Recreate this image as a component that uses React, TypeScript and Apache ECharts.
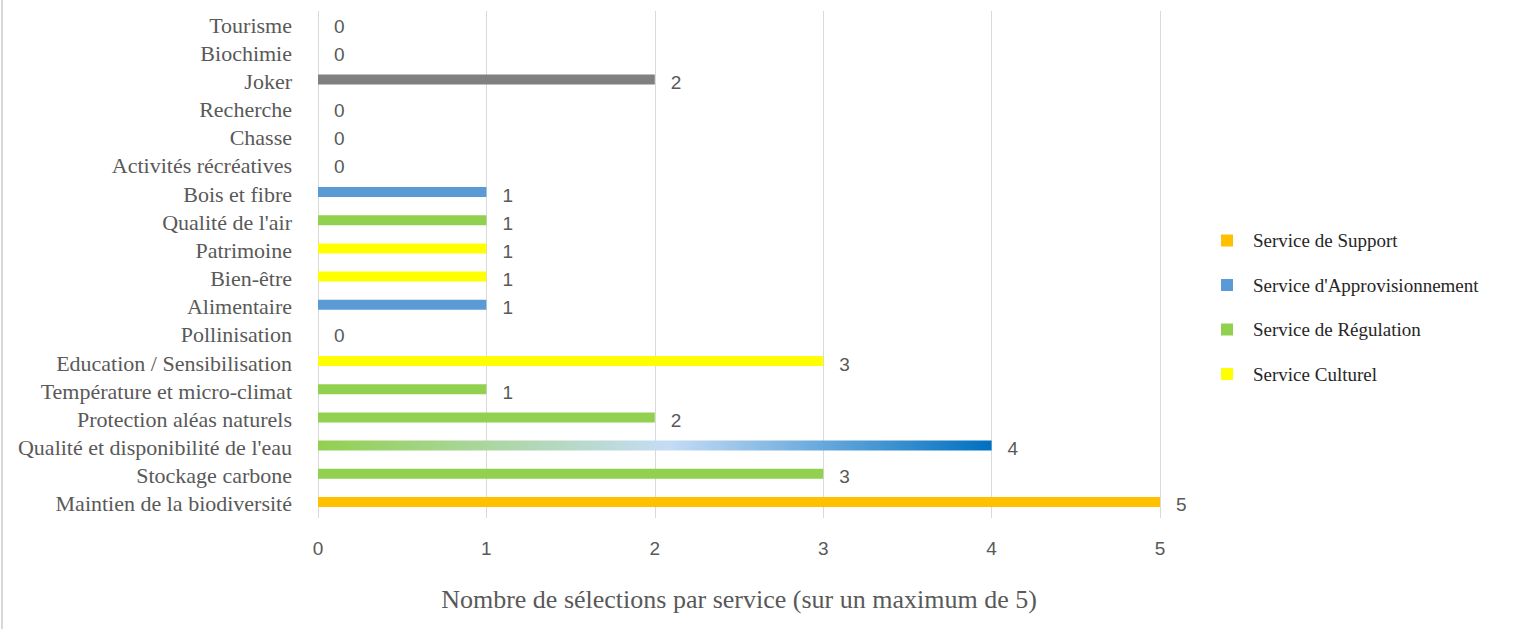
import React, { useEffect, useRef } from "react";
import * as echarts from "echarts";

const categories = [
  "Maintien de la biodiversité",
  "Stockage carbone",
  "Qualité et disponibilité de l'eau",
  "Protection aléas naturels",
  "Température et micro-climat",
  "Education / Sensibilisation",
  "Pollinisation",
  "Alimentaire",
  "Bien-être",
  "Patrimoine",
  "Qualité de l'air",
  "Bois et fibre",
  "Activités récréatives",
  "Chasse",
  "Recherche",
  "Joker",
  "Biochimie",
  "Tourisme",
];
const values = [5, 3, 4, 2, 1, 3, 0, 1, 1, 1, 1, 1, 0, 0, 0, 2, 0, 0];
// service type per category
const serviceOf = [
  "support",
  "regulation",
  "mixed",
  "regulation",
  "regulation",
  "culturel",
  "regulation",
  "approvisionnement",
  "culturel",
  "culturel",
  "regulation",
  "approvisionnement",
  "culturel",
  "culturel",
  "culturel",
  "joker",
  "approvisionnement",
  "culturel",
];
const legendNames = [
  "Service de Support",
  "Service d'Approvisionnement",
  "Service de Régulation",
  "Service Culturel",
];
const legendKeys = ["support", "approvisionnement", "regulation", "culturel"];
const colors: Record<string, string> = {
  support: "#FFC000",
  approvisionnement: "#5B9BD5",
  regulation: "#92D050",
  culturel: "#FFFF00",
  joker: "#808080",
};
const xTicks = [0, 1, 2, 3, 4, 5];

export default function App() {
  const ref = useRef<HTMLDivElement>(null);
  useEffect(() => {
    document.body.style.margin = "0";
    const chart = echarts.init(ref.current!, null, { renderer: "svg" });
    const colorFor = (k: string) =>
      k === "mixed"
        ? new echarts.graphic.LinearGradient(0, 0, 1, 0, [
            { offset: 0, color: "#92D050" },
            { offset: 0.52, color: "#C5DCF5" },
            { offset: 1, color: "#0070C0" },
          ])
        : colors[k];
    chart.setOption({
      animation: false,
      graphic: [
        {
          type: "rect",
          shape: { x: 1, y: 0, width: 2, height: 629 },
          style: { fill: "#D9D9D9" },
        },
      ],
      grid: { left: 318, right: 366, top: 11, bottom: 111, containLabel: false },
      legend: {
        data: legendNames,
        orient: "vertical",
        left: 1216,
        top: 226,
        itemWidth: 12,
        itemHeight: 12,
        itemGap: 25.5,
        icon: "rect",
        textStyle: {
          fontFamily: "Liberation Serif",
          fontSize: 19,
          color: "#262626",
          padding: [0, 0, 0, 15],
        },
      },
      xAxis: {
        type: "value",
        min: xTicks[0],
        max: xTicks[xTicks.length - 1],
        interval: 1,
        axisLine: { show: false },
        axisTick: { show: false },
        splitLine: { lineStyle: { color: "#D9D9D9", width: 1 } },
        axisLabel: {
          margin: 21,
          fontFamily: "Liberation Sans",
          fontSize: 19,
          color: "#595959",
        },
        name: "Nombre de sélections par service (sur un maximum de 5)",
        nameLocation: "middle",
        nameGap: 68,
        nameTextStyle: {
          fontFamily: "Liberation Serif",
          fontSize: 26,
          color: "#595959",
        },
      },
      yAxis: {
        type: "category",
        data: categories,
        axisLine: { show: false },
        axisTick: { show: false },
        axisLabel: {
          interval: 0,
          margin: 26,
          fontFamily: "Liberation Serif",
          fontSize: 22,
          color: "#595959",
        },
      },
      series: [
        {
          name: "Sélections",
          type: "bar",
          barWidth: 10,
          data: values.map((v, i) => ({
            value: v,
            itemStyle: { color: colorFor(serviceOf[i]) },
          })),
          label: {
            show: true,
            position: "right",
            distance: 16,
            offset: [0, 3],
            fontFamily: "Liberation Sans",
            fontSize: 19,
            color: "#595959",
          },
        },
        ...legendNames.map((n, i) => ({
          name: n,
          type: "bar",
          data: [],
          itemStyle: { color: colors[legendKeys[i]] },
        })),
      ],
    });
    return () => chart.dispose();
  }, []);
  return <div ref={ref} style={{ width: 1526, height: 629 }} />;
}
